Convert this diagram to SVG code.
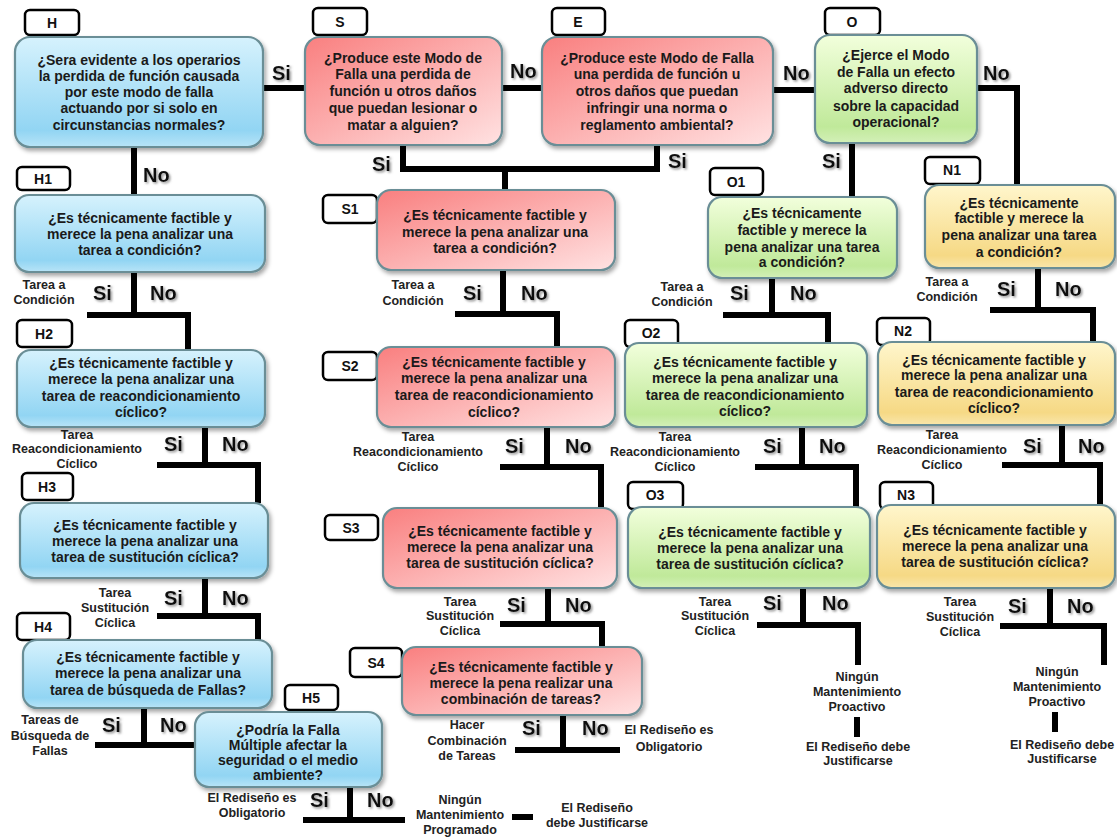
<svg xmlns="http://www.w3.org/2000/svg" width="1117" height="838" viewBox="0 0 1117 838">
<defs>
<linearGradient id="gB" x1="0" y1="0" x2="0" y2="1"><stop offset="0" stop-color="#d6f2fd"/><stop offset="0.85" stop-color="#92d5f3"/><stop offset="1" stop-color="#b8e4f7"/></linearGradient>
<linearGradient id="gR" x1="0" y1="0" x2="1" y2="1"><stop offset="0" stop-color="#f97f7f"/><stop offset="1" stop-color="#ffe2e2"/></linearGradient>
<linearGradient id="gG" x1="0" y1="0" x2="0" y2="1"><stop offset="0" stop-color="#f2ffdc"/><stop offset="0.85" stop-color="#c0e99a"/><stop offset="1" stop-color="#d3f0b8"/></linearGradient>
<linearGradient id="gY" x1="0" y1="0" x2="0" y2="1"><stop offset="0" stop-color="#fff6cc"/><stop offset="0.85" stop-color="#f6d985"/><stop offset="1" stop-color="#f9e6ab"/></linearGradient>
<filter id="sh" x="-10%" y="-10%" width="125%" height="130%"><feDropShadow dx="2" dy="3" stdDeviation="2" flood-color="#000" flood-opacity="0.35"/></filter>
<filter id="ts" x="-20%" y="-20%" width="150%" height="150%"><feDropShadow dx="1.5" dy="1.5" stdDeviation="1" flood-color="#777" flood-opacity="0.8"/></filter>
<style>
.nb{fill:url(#gB)}.nr{fill:url(#gR)}.ng{fill:url(#gG)}.ny{fill:url(#gY)}
.nd{stroke:#6a8e96;stroke-width:2.2;filter:url(#sh)}
.lbx{fill:#fff;stroke:#000;stroke-width:2.5}
.lt{font-family:"Liberation Sans",Arial,sans-serif;font-size:14px;font-weight:bold;fill:#111;text-anchor:middle}
.nt{font-family:"Liberation Sans",Arial,sans-serif;font-size:14px;font-weight:bold;fill:#1a1a1a;text-anchor:middle}
.yn{font-family:"Liberation Sans",Arial,sans-serif;font-size:20px;font-weight:bold;fill:#111;filter:url(#ts)}
.sm{font-family:"Liberation Sans",Arial,sans-serif;font-size:12.5px;font-weight:bold;fill:#222;text-anchor:middle}
.ln{fill:none;stroke:#000;stroke-width:6;stroke-linejoin:miter}
</style>
</defs>
<rect width="1117" height="838" fill="#fff"/>

<g id="connectors">
<path class="ln" d="M263,88 H305"/>
<path class="ln" d="M134,147 V195"/>
<path class="ln" d="M502,88 H542"/>
<path class="ln" d="M773,90 H815"/>
<path class="ln" d="M403,145 V169 H657 V145"/>
<path class="ln" d="M505,169 V190"/>
<path class="ln" d="M852,143 V197"/>
<path class="ln" d="M977,88 H1017 V185"/>
<path class="ln" d="M134,272 V315"/>
<path class="ln" d="M87,315 H188 V350"/>
<path class="ln" d="M205,427 V465"/>
<path class="ln" d="M157,465 H258 V503"/>
<path class="ln" d="M205,578 V616"/>
<path class="ln" d="M157,616 H258 V640"/>
<path class="ln" d="M144,708 V745"/>
<path class="ln" d="M95,745 H195"/>
<path class="ln" d="M350,787 V820"/>
<path class="ln" d="M303,820 H405"/>
<path class="ln" d="M512,817 H533"/>
<path class="ln" d="M503,270 V314"/>
<path class="ln" d="M455,314 H557 V347"/>
<path class="ln" d="M547,427 V467"/>
<path class="ln" d="M500,467 H601 V508"/>
<path class="ln" d="M548,588 V624"/>
<path class="ln" d="M500,624 H602 V647"/>
<path class="ln" d="M563,715 V750"/>
<path class="ln" d="M515,750 H620"/>
<path class="ln" d="M772,278 V315"/>
<path class="ln" d="M723,315 H828 V343"/>
<path class="ln" d="M802,427 V467"/>
<path class="ln" d="M755,467 H856 V507"/>
<path class="ln" d="M803,588 V625"/>
<path class="ln" d="M757,625 H858 V665"/>
<path class="ln" d="M857,717 V737"/>
<path class="ln" d="M1038,268 V310"/>
<path class="ln" d="M990,310 H1093 V342"/>
<path class="ln" d="M1062,425 V465"/>
<path class="ln" d="M1002,465 H1100 V505"/>
<path class="ln" d="M1050,588 V626"/>
<path class="ln" d="M1000,626 H1104 V665"/>
<path class="ln" d="M1055,712 V732"/>
</g>

<g id="answers">
<text class="yn" x="272" y="80">Si</text>
<text class="yn" x="143" y="182">No</text>
<text class="yn" x="510" y="78">No</text>
<text class="yn" x="372" y="171">Si</text>
<text class="yn" x="668" y="168">Si</text>
<text class="yn" x="783" y="80">No</text>
<text class="yn" x="983" y="80">No</text>
<text class="yn" x="822" y="168">Si</text>
<text class="yn" x="93" y="300">Si</text><text class="yn" x="150" y="300">No</text>
<text class="yn" x="164" y="451">Si</text><text class="yn" x="222" y="451">No</text>
<text class="yn" x="164" y="605">Si</text><text class="yn" x="222" y="605">No</text>
<text class="yn" x="102" y="732">Si</text><text class="yn" x="160" y="732">No</text>
<text class="yn" x="310" y="807">Si</text><text class="yn" x="367" y="807">No</text>
<text class="yn" x="463" y="300">Si</text><text class="yn" x="521" y="300">No</text>
<text class="yn" x="505" y="453">Si</text><text class="yn" x="565" y="453">No</text>
<text class="yn" x="507" y="612">Si</text><text class="yn" x="565" y="612">No</text>
<text class="yn" x="522" y="735">Si</text><text class="yn" x="582" y="735">No</text>
<text class="yn" x="730" y="300">Si</text><text class="yn" x="790" y="300">No</text>
<text class="yn" x="763" y="453">Si</text><text class="yn" x="819" y="453">No</text>
<text class="yn" x="763" y="610">Si</text><text class="yn" x="822" y="610">No</text>
<text class="yn" x="997" y="296">Si</text><text class="yn" x="1055" y="296">No</text>
<text class="yn" x="1023" y="453">Si</text><text class="yn" x="1078" y="453">No</text>
<text class="yn" x="1008" y="613">Si</text><text class="yn" x="1067" y="613">No</text>
</g>

<g id="outcomes">
<text class="sm" x="44"><tspan x="44" y="289">Tarea a</tspan><tspan x="44" y="304">Condición</tspan></text>
<text class="sm"><tspan x="77" y="439">Tarea</tspan><tspan x="77" y="453">Reacondicionamiento</tspan><tspan x="77" y="468">Cíclico</tspan></text>
<text class="sm"><tspan x="115" y="597">Tarea</tspan><tspan x="115" y="612">Sustitución</tspan><tspan x="115" y="627">Cíclica</tspan></text>
<text class="sm"><tspan x="50" y="724">Tareas de</tspan><tspan x="50" y="740">Búsqueda de</tspan><tspan x="50" y="755">Fallas</tspan></text>
<text class="sm"><tspan x="252" y="802">El Rediseño es</tspan><tspan x="252" y="817">Obligatorio</tspan></text>
<text class="sm"><tspan x="460" y="804">Ningún</tspan><tspan x="460" y="819">Mantenimiento</tspan><tspan x="460" y="834">Programado</tspan></text>
<text class="sm"><tspan x="597" y="812">El Rediseño</tspan><tspan x="597" y="827">debe Justificarse</tspan></text>
<text class="sm"><tspan x="413" y="289">Tarea a</tspan><tspan x="413" y="305">Condición</tspan></text>
<text class="sm"><tspan x="418" y="441">Tarea</tspan><tspan x="418" y="456">Reacondicionamiento</tspan><tspan x="418" y="471">Cíclico</tspan></text>
<text class="sm"><tspan x="460" y="606">Tarea</tspan><tspan x="460" y="620">Sustitución</tspan><tspan x="460" y="635">Cíclica</tspan></text>
<text class="sm"><tspan x="467" y="729">Hacer</tspan><tspan x="467" y="745">Combinación</tspan><tspan x="467" y="760">de Tareas</tspan></text>
<text class="sm"><tspan x="669" y="734">El Rediseño es</tspan><tspan x="669" y="751">Obligatorio</tspan></text>
<text class="sm"><tspan x="682" y="291">Tarea a</tspan><tspan x="682" y="306">Condición</tspan></text>
<text class="sm"><tspan x="675" y="441">Tarea</tspan><tspan x="675" y="456">Reacondicionamiento</tspan><tspan x="675" y="471">Cíclico</tspan></text>
<text class="sm"><tspan x="715" y="606">Tarea</tspan><tspan x="715" y="620">Sustitución</tspan><tspan x="715" y="635">Cíclica</tspan></text>
<text class="sm"><tspan x="857" y="681">Ningún</tspan><tspan x="857" y="696">Mantenimiento</tspan><tspan x="857" y="711">Proactivo</tspan></text>
<text class="sm"><tspan x="858" y="751">El Rediseño debe</tspan><tspan x="858" y="765">Justificarse</tspan></text>
<text class="sm"><tspan x="947" y="286">Tarea a</tspan><tspan x="947" y="301">Condición</tspan></text>
<text class="sm"><tspan x="942" y="439">Tarea</tspan><tspan x="942" y="454">Reacondicionamiento</tspan><tspan x="942" y="469">Cíclico</tspan></text>
<text class="sm"><tspan x="960" y="606">Tarea</tspan><tspan x="960" y="621">Sustitución</tspan><tspan x="960" y="636">Cíclica</tspan></text>
<text class="sm"><tspan x="1057" y="676">Ningún</tspan><tspan x="1057" y="691">Mantenimiento</tspan><tspan x="1057" y="706">Proactivo</tspan></text>
<text class="sm"><tspan x="1062" y="749">El Rediseño debe</tspan><tspan x="1062" y="763">Justificarse</tspan></text>
</g>

<g id="node-H">
<rect class="lbx" x="25" y="10" width="54" height="25" rx="5"/><text class="lt" x="52" y="28">H</text>
<rect class="nb nd" x="15" y="37" width="248" height="110" rx="15"/>
<text class="nt"><tspan x="139" y="65">¿Sera evidente a los operarios</tspan><tspan x="139" y="81">la perdida de función  causada</tspan><tspan x="139" y="97">por este modo de falla</tspan><tspan x="139" y="113">actuando por si solo en</tspan><tspan x="139" y="130">circunstancias normales?</tspan></text>
</g>
<g id="node-S">
<rect class="lbx" x="313" y="8" width="54" height="27" rx="5"/><text class="lt" x="340" y="27">S</text>
<rect class="nr nd" x="305" y="37" width="197" height="108" rx="15"/>
<text class="nt"><tspan x="403" y="63">¿Produce este Modo de</tspan><tspan x="403" y="79">Falla  una perdida de</tspan><tspan x="403" y="96">función  u otros daños</tspan><tspan x="403" y="113">que puedan lesionar o</tspan><tspan x="403" y="130">matar a alguien?</tspan></text>
</g>
<g id="node-E">
<rect class="lbx" x="552" y="8" width="53" height="27" rx="5"/><text class="lt" x="578" y="27">E</text>
<rect class="nr nd" x="542" y="37" width="231" height="108" rx="15"/>
<text class="nt"><tspan x="657" y="63">¿Produce este Modo de Falla</tspan><tspan x="657" y="79">una perdida de función u</tspan><tspan x="657" y="96">otros daños que puedan</tspan><tspan x="657" y="113">infringir  una norma o</tspan><tspan x="657" y="130">reglamento ambiental?</tspan></text>
</g>
<g id="node-O">
<rect class="lbx" x="825" y="8" width="55" height="27" rx="5"/><text class="lt" x="852" y="27">O</text>
<rect class="ng nd" x="815" y="35" width="162" height="108" rx="15"/>
<text class="nt"><tspan x="896" y="60">¿Ejerce el Modo</tspan><tspan x="896" y="77">de Falla  un efecto</tspan><tspan x="896" y="93">adverso directo</tspan><tspan x="896" y="111">sobre la capacidad</tspan><tspan x="896" y="127">operacional?</tspan></text>
</g>

<g id="node-H1">
<rect class="lbx" x="17" y="167" width="53" height="23" rx="5"/><text class="lt" x="43" y="184">H1</text>
<rect class="nb nd" x="15" y="195" width="250" height="77" rx="14"/>
<text class="nt"><tspan x="140" y="223">¿Es técnicamente factible y</tspan><tspan x="140" y="239">merece la pena analizar una</tspan><tspan x="140" y="255">tarea a condición?</tspan></text>
</g>
<g id="node-H2">
<rect class="lbx" x="17" y="320" width="55" height="27" rx="5"/><text class="lt" x="44" y="339">H2</text>
<rect class="nb nd" x="17" y="350" width="248" height="77" rx="14"/>
<text class="nt"><tspan x="141" y="368">¿Es técnicamente factible y</tspan><tspan x="141" y="384">merece la pena analizar una</tspan><tspan x="141" y="401">tarea de reacondicionamiento</tspan><tspan x="141" y="417">cíclico?</tspan></text>
</g>
<g id="node-H3">
<rect class="lbx" x="22" y="473" width="51" height="27" rx="5"/><text class="lt" x="47" y="492">H3</text>
<rect class="nb nd" x="20" y="503" width="248" height="75" rx="14"/>
<text class="nt"><tspan x="145" y="530">¿Es técnicamente factible y</tspan><tspan x="145" y="546">merece la pena analizar una</tspan><tspan x="145" y="562">tarea de sustitución  cíclica?</tspan></text>
</g>
<g id="node-H4">
<rect class="lbx" x="17" y="613" width="53" height="27" rx="5"/><text class="lt" x="43" y="632">H4</text>
<rect class="nb nd" x="23" y="640" width="249" height="68" rx="14"/>
<text class="nt"><tspan x="148" y="662">¿Es técnicamente factible y</tspan><tspan x="148" y="678">merece la pena analizar una</tspan><tspan x="148" y="695">tarea de búsqueda de Fallas?</tspan></text>
</g>
<g id="node-H5">
<rect class="lbx" x="285" y="685" width="53" height="25" rx="5"/><text class="lt" x="311" y="703">H5</text>
<rect class="nb nd" x="195" y="712" width="187" height="75" rx="14"/>
<text class="nt"><tspan x="288" y="735">¿Podría la Falla</tspan><tspan x="288" y="750">Múltiple afectar la</tspan><tspan x="288" y="765">seguridad o el medio</tspan><tspan x="288" y="780">ambiente?</tspan></text>
</g>

<g id="node-S1">
<rect class="lbx" x="323" y="195" width="54" height="28" rx="5"/><text class="lt" x="350" y="214">S1</text>
<rect class="nr nd" x="377" y="190" width="238" height="80" rx="14"/>
<text class="nt"><tspan x="495" y="220">¿Es técnicamente factible y</tspan><tspan x="495" y="237">merece la pena analizar una</tspan><tspan x="495" y="253">tarea a condición?</tspan></text>
</g>
<g id="node-S2">
<rect class="lbx" x="323" y="352" width="54" height="28" rx="5"/><text class="lt" x="350" y="371">S2</text>
<rect class="nr nd" x="377" y="347" width="238" height="80" rx="14"/>
<text class="nt"><tspan x="494" y="367">¿Es técnicamente factible y</tspan><tspan x="494" y="383">merece la pena analizar una</tspan><tspan x="494" y="400">tarea de reacondicionamiento</tspan><tspan x="494" y="417">cíclico?</tspan></text>
</g>
<g id="node-S3">
<rect class="lbx" x="325" y="515" width="53" height="25" rx="5"/><text class="lt" x="351" y="533">S3</text>
<rect class="nr nd" x="383" y="508" width="234" height="80" rx="14"/>
<text class="nt"><tspan x="500" y="536">¿Es técnicamente factible y</tspan><tspan x="500" y="552">merece la pena analizar una</tspan><tspan x="500" y="568">tarea de sustitución   cíclica?</tspan></text>
</g>
<g id="node-S4">
<rect class="lbx" x="350" y="648" width="52" height="29" rx="5"/><text class="lt" x="376" y="668">S4</text>
<rect class="nr nd" x="402" y="647" width="240" height="68" rx="14"/>
<text class="nt"><tspan x="521" y="672">¿Es técnicamente factible y</tspan><tspan x="521" y="688">merece la pena realizar una</tspan><tspan x="521" y="704">combinación de tareas?</tspan></text>
</g>

<g id="node-O1">
<rect class="lbx" x="710" y="168" width="53" height="27" rx="5"/><text class="lt" x="736" y="187">O1</text>
<rect class="ng nd" x="708" y="197" width="189" height="81" rx="14"/>
<text class="nt"><tspan x="802" y="218">¿Es técnicamente</tspan><tspan x="802" y="235">factible y merece la</tspan><tspan x="802" y="252">pena analizar una tarea</tspan><tspan x="802" y="267">a condición?</tspan></text>
</g>
<g id="node-O2">
<rect class="lbx" x="625" y="320" width="53" height="27" rx="5"/><text class="lt" x="651" y="338">O2</text>
<rect class="ng nd" x="625" y="343" width="242" height="84" rx="14"/>
<text class="nt"><tspan x="745" y="367">¿Es técnicamente factible y</tspan><tspan x="745" y="383">merece la pena analizar una</tspan><tspan x="745" y="400">tarea de reacondicionamiento</tspan><tspan x="745" y="416">cíclico?</tspan></text>
</g>
<g id="node-O3">
<rect class="lbx" x="628" y="482" width="55" height="27" rx="5"/><text class="lt" x="655" y="500">O3</text>
<rect class="ng nd" x="628" y="507" width="242" height="81" rx="14"/>
<text class="nt"><tspan x="750" y="537">¿Es técnicamente factible y</tspan><tspan x="750" y="553">merece la pena analizar una</tspan><tspan x="750" y="569">tarea de sustitución  cíclica?</tspan></text>
</g>

<g id="node-N1">
<rect class="lbx" x="925" y="157" width="55" height="27" rx="5"/><text class="lt" x="952" y="175">N1</text>
<rect class="ny nd" x="925" y="185" width="190" height="83" rx="14"/>
<text class="nt"><tspan x="1019" y="208">¿Es técnicamente</tspan><tspan x="1019" y="223">factible y merece la</tspan><tspan x="1019" y="240">pena analizar una tarea</tspan><tspan x="1019" y="257">a condición?</tspan></text>
</g>
<g id="node-N2">
<rect class="lbx" x="877" y="318" width="53" height="27" rx="5"/><text class="lt" x="903" y="336">N2</text>
<rect class="ny nd" x="878" y="342" width="237" height="83" rx="14"/>
<text class="nt"><tspan x="994" y="365">¿Es técnicamente factible y</tspan><tspan x="994" y="380">merece la pena analizar una</tspan><tspan x="994" y="397">tarea de reacondicionamiento</tspan><tspan x="994" y="413">cíclico?</tspan></text>
</g>
<g id="node-N3">
<rect class="lbx" x="880" y="482" width="53" height="27" rx="5"/><text class="lt" x="906" y="500">N3</text>
<rect class="ny nd" x="877" y="505" width="238" height="83" rx="14"/>
<text class="nt"><tspan x="995" y="535">¿Es técnicamente factible y</tspan><tspan x="995" y="551">merece la pena analizar una</tspan><tspan x="995" y="567">tarea de sustitución  cíclica?</tspan></text>
</g>
</svg>
